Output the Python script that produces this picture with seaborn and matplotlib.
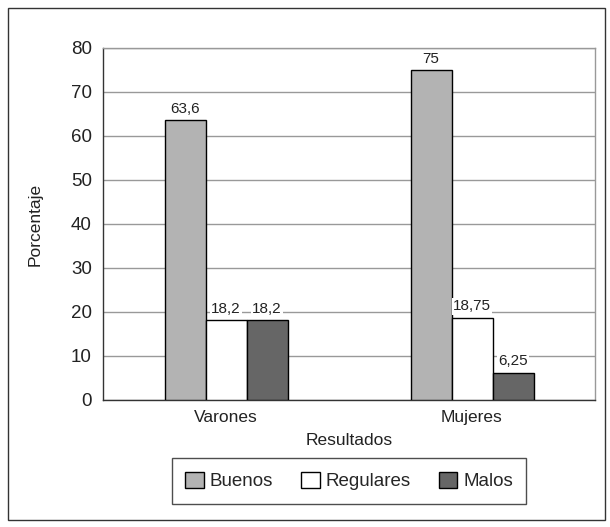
import pandas as pd
import seaborn as sns
import matplotlib.pyplot as plt

# data
grupos = ["Varones", "Mujeres"]
resultados = ["Buenos", "Regulares", "Malos"]
buenos = [63.6, 75]
regulares = [18.2, 18.75]
malos = [18.2, 6.25]
etiquetas = {"Buenos": ["63,6", "75"], "Regulares": ["18,2", "18,75"], "Malos": ["18,2", "6,25"]}

df = pd.DataFrame({
    "grupo": grupos * 3,
    "resultado": [r for r in resultados for _ in grupos],
    "valor": buenos + regulares + malos,
})

sns.set_style("white")
plt.rcParams['font.family'] = ['Liberation Sans', 'DejaVu Sans']

fig = plt.figure(figsize=(6.1, 5.27), dpi=100)
ax = fig.add_axes([103/610, 1 - 400/527, (595-103)/610, (400-48)/527])

colores = {"Buenos": "#b3b3b3", "Regulares": "#ffffff", "Malos": "#666666"}
sns.barplot(data=df, x="grupo", y="valor", hue="resultado", order=grupos,
            hue_order=resultados, palette=colores, width=0.5, edgecolor="black",
            linewidth=1.0, ax=ax, zorder=3)

for cont, r in zip(ax.containers, resultados):
    ax.bar_label(cont, labels=etiquetas[r], padding=3, fontsize=11, color="#222222",
                 bbox=dict(facecolor="white", edgecolor="none", pad=1.0), zorder=4)

ax.set_ylim(0, 80)
ax.set_yticks(range(0, 81, 10))
ax.set_xlim(-0.5, 1.5)
ax.yaxis.grid(True, color="#999999", linewidth=1.0, zorder=0)
ax.set_axisbelow(True)

ax.set_xticks([0, 1])
ax.set_xticks([-0.5, 0.5, 1.5], minor=True)
ax.tick_params(axis="x", which="major", length=0, labelsize=12.5, pad=7)
ax.tick_params(axis="x", which="minor", length=6, width=1, color="#333333", direction="out")
ax.tick_params(axis="y", length=5, width=1, color="#333333", direction="out", labelsize=13.5, pad=3)
ax.tick_params(colors="#222222", which="both")

for s in ["left", "bottom"]:
    ax.spines[s].set_color("#333333")
    ax.spines[s].set_linewidth(1.0)
for s in ["top", "right"]:
    ax.spines[s].set_color("#999999")
    ax.spines[s].set_linewidth(1.0)

ax.set_xlabel("Resultados", fontsize=12.5, color="#222222", labelpad=6)
ax.set_ylabel("Porcentaje", fontsize=12.5, color="#222222", labelpad=20)

ax.legend_.remove()
handles, labels = ax.get_legend_handles_labels()
leg = fig.legend(handles, labels, loc="center", bbox_to_anchor=(349/610, 1 - 481/527),
                 ncol=3, frameon=True, fancybox=False, fontsize=13.5, handlelength=1.0,
                 handleheight=1.0, columnspacing=1.5, borderpad=0.7, handletextpad=0.3)
leg.get_frame().set_edgecolor("#222222")
leg.get_frame().set_linewidth(1.0)

# outer border
fig.patches.append(plt.Rectangle((8/610, 1 - 520/527), 597/610, 512/527, transform=fig.transFigure,
                                 fill=False, edgecolor="#333333", linewidth=1.0))

fig.savefig("out.png", dpi=100)
